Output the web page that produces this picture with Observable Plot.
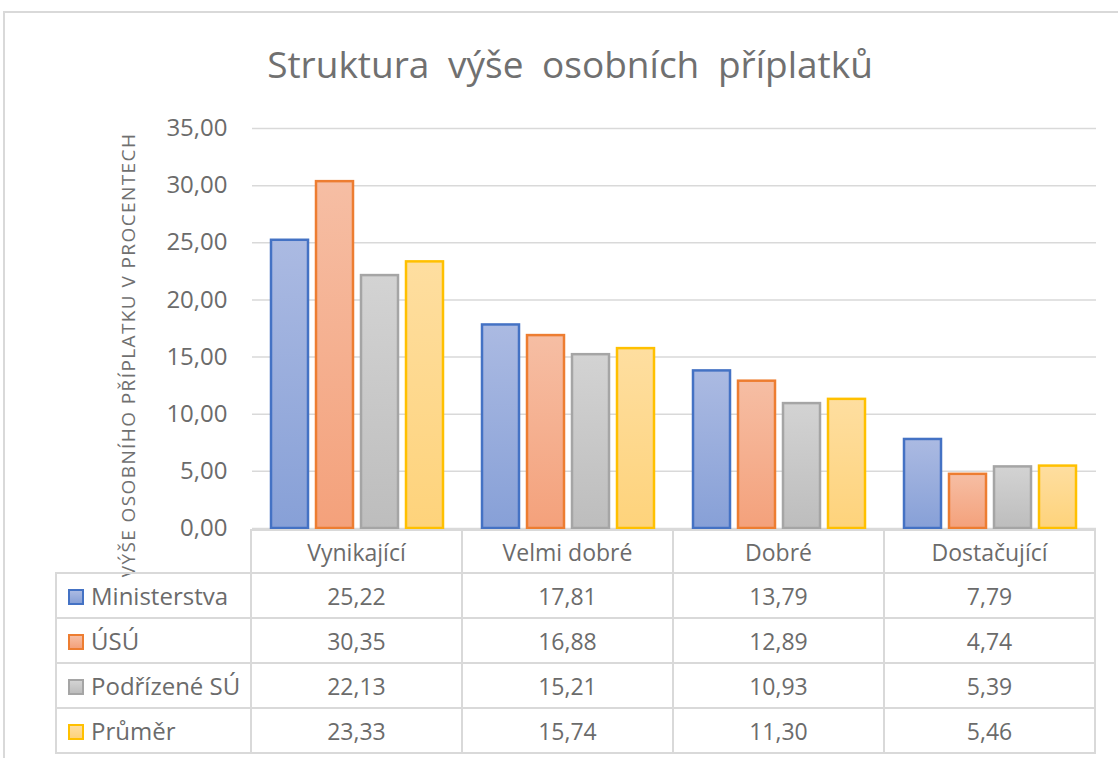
<!DOCTYPE html>
<html><head><meta charset="utf-8">
<script src="https://cdn.jsdelivr.net/npm/d3@7"></script>
<script src="https://cdn.jsdelivr.net/npm/@observablehq/plot@0.6"></script>
<style>
body{margin:0;background:#fff;font-family:"Open Sans",sans-serif;color:#6b6b6b;}
#wrap{position:relative;width:1118px;height:758px;overflow:hidden;background:#fff;}
#frame{position:absolute;left:3px;top:11px;width:1200px;height:800px;border-left:2px solid #d9d9d9;border-top:2px solid #d9d9d9;}
#title{position:absolute;left:0;width:1140px;top:38px;text-align:center;font-size:37px;color:#707070;word-spacing:9px;}
#ylab{position:absolute;width:560px;left:-152px;top:342px;text-align:center;font-size:19px;letter-spacing:1.4px;color:#707070;transform:rotate(-90deg);transform-origin:center;white-space:nowrap;}
#chart{position:absolute;left:0;top:0;}
#tbl{position:absolute;left:55px;top:529px;border-collapse:collapse;table-layout:fixed;font-size:23px;color:#6b6b6b;}
#tbl td{border:2px solid #d9d9d9;text-align:center;padding:0;height:43px;overflow:hidden;}
#tbl tr.h td{height:41px;}
#tbl td.name{text-align:left;padding-left:11px;white-space:nowrap;font-size:24px;}
#tbl td.blank{border-top:none;border-left:none;}
.key{display:inline-block;width:12px;height:12px;border:2.5px solid;margin-right:7px;vertical-align:middle;position:relative;top:-2px;}
</style></head>
<body>
<div id="wrap">
  <div id="frame"></div>
  <div id="title"></div>
  <div id="chart"></div>
  <div id="ylab"></div>
  <table id="tbl"></table>
</div>
<script>
const titleText = "Struktura výše osobních příplatků";
const yLabel = "VÝŠE OSOBNÍHO PŘÍPLATKU V PROCENTECH";
const categories = ["Vynikající", "Velmi dobré", "Dobré", "Dostačující"];
const series = ["Ministerstva", "ÚSÚ", "Podřízené SÚ", "Průměr"];
const ministerstva = [25.22, 17.81, 13.79, 7.79];
const usu = [30.35, 16.88, 12.89, 4.74];
const podrizene = [22.13, 15.21, 10.93, 5.39];
const prumer = [23.33, 15.74, 11.30, 5.46];
const yTicks = [0, 5, 10, 15, 20, 25, 30, 35];

const strokeColors = ["#4472C4", "#ED7D31", "#A5A5A5", "#FFC000"];
const gradTop = ["#abbae2", "#f6bea4", "#d3d3d3", "#fedea0"];
const gradBottom = ["#87a0d7", "#f4a17b", "#bdbdbd", "#fed37b"];

const values = [ministerstva, usu, podrizene, prumer];
const rows = [];
series.forEach((s, si) => categories.forEach((c, ci) => rows.push({category: c, series: s, si, value: values[si][ci]})));

const fmt = v => v.toFixed(2).replace(".", ",");

document.getElementById("title").textContent = titleText;
document.getElementById("ylab").textContent = yLabel;

const chart = Plot.plot({
  width: 1118,
  height: 758,
  marginTop: 128,
  marginBottom: 230,
  marginLeft: 250,
  marginRight: 21,
  style: {fontFamily: "Open Sans, sans-serif", color: "#6b6b6b", background: "transparent"},
  facet: {data: rows, x: "category"},
  fx: {domain: categories, padding: 0, axis: null, label: null},
  x: {domain: series, paddingInner: 0.174, paddingOuter: 0.386, axis: null},
  y: {domain: [0, 35], axis: null},
  color: {type: "identity"},
  marks: [
    Plot.ruleY(yTicks, {stroke: "#d9d9d9", strokeWidth: 1.5}),
    Plot.barY(rows, {
      x: "series", y: "value",
      fill: d => `url(#grad${d.si})`,
      stroke: d => strokeColors[d.si],
      strokeWidth: 2.5
    }),
    Plot.axisY(yTicks, {
      tickSize: 0, tickPadding: 25, fontSize: 24, label: null,
      tickFormat: fmt, fill: "#6b6b6b"
    })
  ]
});

const defs = d3.select(chart).insert("defs", ":first-child");
strokeColors.forEach((c, i) => {
  const g = defs.append("linearGradient").attr("id", `grad${i}`)
    .attr("x1", 0).attr("y1", 0).attr("x2", 0).attr("y2", 1);
  g.append("stop").attr("offset", "0%").attr("stop-color", gradTop[i]);
  g.append("stop").attr("offset", "100%").attr("stop-color", gradBottom[i]);
});
document.getElementById("chart").appendChild(chart);

// data table aligned to the fx scale
const fx = chart.scale("fx");
const colW = fx.step || (fx.range[1] - fx.range[0]) / categories.length;
const firstX = fx.apply ? fx.apply(categories[0]) : 250;
const tbl = document.getElementById("tbl");
const tableLeft = 55;
const nameW = firstX - tableLeft - 2;
tbl.style.width = (nameW + colW * categories.length) + "px";
let html = `<colgroup><col style="width:${nameW}px">` + categories.map(() => `<col style="width:${colW}px">`).join("") + "</colgroup>";
html += `<tr class="h"><td class="blank"></td>` + categories.map(c => `<td>${c}</td>`).join("") + "</tr>";
series.forEach((s, si) => {
  html += `<tr><td class="name"><span class="key" style="border-color:${strokeColors[si]};background:linear-gradient(${gradTop[si]},${gradBottom[si]})"></span>${s}</td>` +
    values[si].map(v => `<td>${fmt(v)}</td>`).join("") + "</tr>";
});
tbl.innerHTML = html;
</script>
</body></html>
